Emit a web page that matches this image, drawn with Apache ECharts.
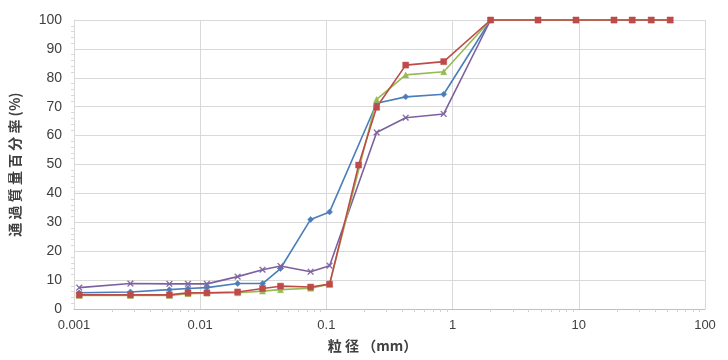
<!DOCTYPE html>
<html>
<head>
<meta charset="utf-8">
<script src="https://cdn.jsdelivr.net/npm/echarts@6/dist/echarts.min.js"></script>
<style>html,body{margin:0;padding:0;background:#fff;}#c{width:728px;height:360px;}</style>
</head>
<body>
<div id="c"></div>
<script>
// particle sizes (mm)
const sizes = [0.0011, 0.0028, 0.0057, 0.008, 0.0113, 0.0198, 0.0312, 0.0433, 0.075, 0.106, 0.25, 0.425, 0.85, 2, 4.75, 9.5, 19, 26.5, 37.5, 53];
const sizesRed = [0.0011, 0.0028, 0.0057, 0.008, 0.0113, 0.0198, 0.0312, 0.0433, 0.075, 0.106, 0.18, 0.25, 0.425, 0.85, 2, 4.75, 9.5, 19, 26.5, 37.5, 53];
// percent passing (%)
const blueVals   = [5.6, 5.9, 6.7, 7.1, 7.4, 8.8, 8.8, 14.0, 31.0, 33.6, 71.2, 73.4, 74.3, 100, 100, 100, 100, 100, 100, 100];
const redVals    = [4.9, 4.9, 4.9, 5.6, 5.6, 5.9, 7.1, 7.9, 7.6, 8.6, 49.8, 69.8, 84.4, 85.6, 100, 100, 100, 100, 100, 100, 100];
const greenVals  = [4.7, 4.7, 4.7, 5.3, 5.5, 5.6, 6.2, 6.7, 7.2, 8.6, 72.5, 81.0, 82.1, 100, 100, 100, 100, 100, 100, 100];
const purpleVals = [7.4, 8.8, 8.7, 8.7, 8.7, 11.2, 13.6, 14.9, 12.9, 15.0, 61.1, 66.2, 67.5, 100, 100, 100, 100, 100, 100, 100];
const xTicks = [0.001, 0.01, 0.1, 1, 10, 100];

const pairs = (xs, ys) => xs.map((x, i) => [x, ys[i]]);
const xSym = 'path://M1,0L5,4L9,0L10,1L6,5L10,9L9,10L5,6L1,10L0,9L4,5L0,1Z';

function mk(name, xs, ys, color, symbol, size) {
  return {
    name, type: 'line', data: pairs(xs, ys),
    symbol, symbolSize: size, showSymbol: true,
    lineStyle: { color, width: 1.6 },
    itemStyle: { color, borderColor: color, borderWidth: 0.5 },
    emphasis: { disabled: true }
  };
}

const chart = echarts.init(document.getElementById('c'));
chart.setOption({
  animation: false,
  grid: { left: 72, right: 23, top: 20, bottom: 51 },
  xAxis: {
    type: 'log', logBase: 10, min: 0.001, max: 100,
    name: '粒 径 （mm）', nameLocation: 'middle', nameGap: 30,
    nameTextStyle: { fontFamily: 'Noto Sans CJK JP', fontSize: 14, fontWeight: 'bold', color: '#404040', padding: [0, 34, 0, 0] },
    axisLine: { show: true, lineStyle: { color: '#bfbfbf' } },
    axisTick: { show: false },
    minorTick: { show: true, splitNumber: 9, length: 3, lineStyle: { color: '#d0d0d0' } },
    splitLine: { show: true, lineStyle: { color: '#d9d9d9', width: 1 } },
    axisLabel: {
      fontFamily: 'Liberation Sans', fontSize: 13, color: '#404040', margin: 10,
      formatter: v => { const t = xTicks.find(k => Math.abs(k - v) / k < 1e-6); return t === undefined ? '' : String(t); }
    }
  },
  yAxis: {
    type: 'value', min: 0, max: 100, interval: 10,
    name: '通 過 質 量 百 分 率 (%)', nameLocation: 'middle', nameGap: 52, nameRotate: 90,
    nameTextStyle: { fontFamily: 'Noto Sans CJK JP', fontSize: 14, fontWeight: 'bold', color: '#404040' },
    axisLine: { show: true, lineStyle: { color: '#d9d9d9' } },
    axisTick: { show: false },
    minorTick: { show: true, splitNumber: 5, length: 3, lineStyle: { color: '#d9d9d9' } },
    splitLine: { show: true, lineStyle: { color: '#d9d9d9', width: 1 } },
    axisLabel: { fontFamily: 'Liberation Sans', fontSize: 14, color: '#404040', margin: 12 }
  },
  series: [
    mk('blue', sizes, blueVals, '#4a7ebb', 'diamond', 6),
    mk('purple', sizes, purpleVals, '#7d60a0', xSym, 6),
    mk('green', sizes, greenVals, '#98b954', 'triangle', 6),
    mk('red', sizesRed, redVals, '#be4b48', 'rect', 6)
  ]
});
</script>
</body>
</html>
